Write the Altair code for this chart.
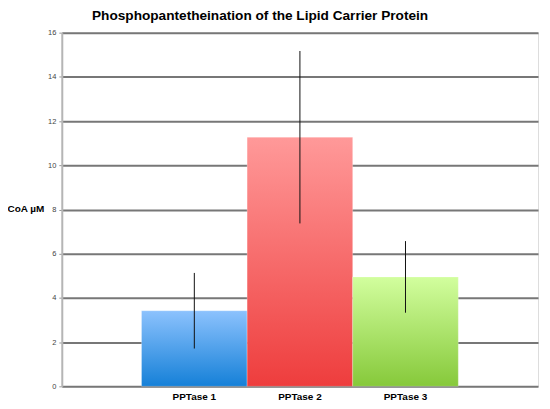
import altair as alt
import pandas as pd

categories = ["PPTase 1", "PPTase 2", "PPTase 3"]
means = [3.42, 11.27, 4.95]
errors = [1.71, 3.9, 1.62]

df = pd.DataFrame({
    "cat": categories,
    "mean": means,
    "lo": [m - e for m, e in zip(means, errors)],
    "hi": [m + e for m, e in zip(means, errors)],
})

gradients = {
    "PPTase 1": ("#8cc2fd", "#1580d8"),
    "PPTase 2": ("#ff9999", "#ee3d3d"),
    "PPTase 3": ("#d2fe9e", "#86c93a"),
}

xscale = alt.Scale(domain=categories, paddingInner=0, paddingOuter=0.755)
yscale = alt.Scale(domain=[0, 16])

xaxis = alt.Axis(title=None, labelAngle=0, labelFont="Liberation Sans",
                 labelFontWeight="bold", labelFontSize=10, labelColor="#000",
                 ticks=False, domain=False, labelPadding=5)
yaxis = alt.Axis(values=[0, 2, 4, 6, 8, 10, 12, 14, 16], title="CoA µM",
                 titleAngle=0, titleFont="Liberation Sans", titleFontWeight="bold",
                 titleFontSize=10, titleColor="#000", titleAlign="left",
                 titleBaseline="middle", titleX=-55, titleY=177,
                 labelFont="Liberation Sans", labelFontSize=7.5, labelColor="#444",
                 tickColor="#999", tickSize=3, tickWidth=1,
                 domainColor="#b5b5b5", domainWidth=2,
                 grid=True, gridColor="#777777", gridWidth=2, labelPadding=3)

layers = []
for i, c in enumerate(categories):
    top, bot = gradients[c]
    grad = alt.LinearGradient(gradient="linear", x1=0, y1=0, x2=0, y2=1,
                              stops=[alt.GradientStop(color=top, offset=0),
                                     alt.GradientStop(color=bot, offset=1)])
    layer = alt.Chart(df).transform_filter(alt.datum.cat == c).mark_bar(
        color=grad, stroke="#ffffff", strokeWidth=0.5, strokeOpacity=0.5
    ).encode(
        x=alt.X("cat:N", scale=xscale, sort=categories, axis=xaxis),
        y=alt.Y("mean:Q", scale=yscale, axis=yaxis),
    )
    layers.append(layer)

err = alt.Chart(df).mark_rule(color="#111", strokeWidth=1).encode(
    x=alt.X("cat:N", scale=xscale, sort=categories, axis=xaxis),
    y=alt.Y("lo:Q", scale=yscale, axis=yaxis),
    y2="hi:Q",
)

chart = alt.layer(*layers, err).properties(
    width=478, height=355,
    autosize=alt.AutoSizeParams(type="none"),
    padding={"left": 54, "top": 24, "right": 4, "bottom": 16},
    title=alt.TitleParams("Phosphopantetheination of the Lipid Carrier Protein",
                          font="Liberation Sans", fontSize=13.7, fontWeight="bold",
                          color="#000", anchor="middle", dx=-40, offset=6),
).configure_view(strokeWidth=0, stroke="transparent").configure(background="white")

chart.save("out.html", embed_options={"renderer": "svg", "actions": False})
